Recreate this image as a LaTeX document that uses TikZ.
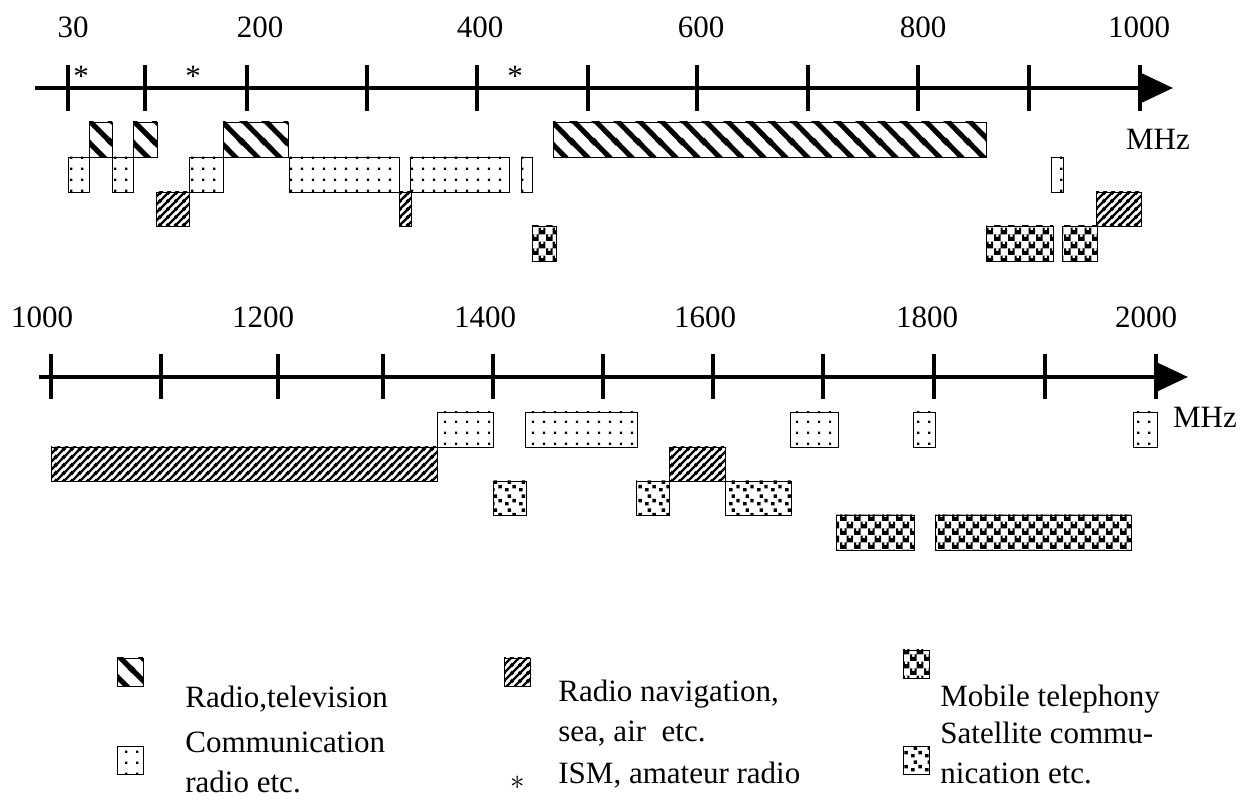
\documentclass[tikz,border=0pt]{standalone}
\usepackage{fontspec}
\setmainfont{Liberation Serif}
\usetikzlibrary{patterns,arrows.meta}

% fill patterns of the bands
\pgfdeclarepatternformonly{rtvlines}{\pgfqpoint{0pt}{0pt}}{\pgfqpoint{11pt}{11pt}}{\pgfqpoint{11pt}{11pt}}{%
  \pgfsetlinewidth{2.6pt}
  \pgfpathmoveto{\pgfqpoint{-11pt}{22pt}}\pgfpathlineto{\pgfqpoint{22pt}{-11pt}}
  \pgfpathmoveto{\pgfqpoint{-11pt}{11pt}}\pgfpathlineto{\pgfqpoint{11pt}{-11pt}}
  \pgfpathmoveto{\pgfqpoint{0pt}{22pt}}\pgfpathlineto{\pgfqpoint{22pt}{0pt}}
  \pgfusepath{stroke}}
\pgfdeclarepatternformonly{navlines}{\pgfqpoint{0pt}{0pt}}{\pgfqpoint{4pt}{4pt}}{\pgfqpoint{4pt}{4pt}}{%
  \pgfsetlinewidth{1.3pt}
  \pgfpathmoveto{\pgfqpoint{-4pt}{-4pt}}\pgfpathlineto{\pgfqpoint{8pt}{8pt}}
  \pgfpathmoveto{\pgfqpoint{0pt}{-4pt}}\pgfpathlineto{\pgfqpoint{8pt}{4pt}}
  \pgfpathmoveto{\pgfqpoint{-4pt}{0pt}}\pgfpathlineto{\pgfqpoint{4pt}{8pt}}
  \pgfusepath{stroke}}
\pgfdeclarepatternformonly{commdots}{\pgfqpoint{0pt}{0pt}}{\pgfqpoint{5.5pt}{5.5pt}}{\pgfqpoint{5.5pt}{5.5pt}}{%
  \pgfpathrectangle{\pgfqpoint{2.15pt}{2.15pt}}{\pgfqpoint{1.2pt}{1.2pt}}
  \pgfusepath{fill}}
\pgfdeclarepatternformonly{mobcells}{\pgfqpoint{0pt}{0pt}}{\pgfqpoint{7pt}{7pt}}{\pgfqpoint{7pt}{7pt}}{%
  \pgfseteorule
  \pgfpathrectangle{\pgfqpoint{0pt}{0pt}}{\pgfqpoint{3.5pt}{3.5pt}}
  \pgfpathrectangle{\pgfqpoint{1.1pt}{2.2pt}}{\pgfqpoint{1.3pt}{1.3pt}}
  \pgfpathrectangle{\pgfqpoint{3.5pt}{3.5pt}}{\pgfqpoint{3.5pt}{3.5pt}}
  \pgfpathrectangle{\pgfqpoint{4.6pt}{5.7pt}}{\pgfqpoint{1.3pt}{1.3pt}}
  \pgfusepath{fill}}
\pgfdeclarepatternformonly{satspots}{\pgfqpoint{0pt}{0pt}}{\pgfqpoint{7pt}{7pt}}{\pgfqpoint{7pt}{7pt}}{%
  \pgfpathrectangle{\pgfqpoint{0.6pt}{0.8pt}}{\pgfqpoint{1.8pt}{1.8pt}}
  \pgfpathrectangle{\pgfqpoint{4.4pt}{2.4pt}}{\pgfqpoint{1.8pt}{1.8pt}}
  \pgfpathrectangle{\pgfqpoint{1.9pt}{4.8pt}}{\pgfqpoint{1.8pt}{1.8pt}}
  \pgfusepath{fill}}

\begin{document}
\begin{tikzpicture}[x=0.5pt, y=-0.5pt, font=\fontsize{15.5}{20}\selectfont,
  every node/.style={inner sep=0pt},
  axisline/.style={line width=2pt, -{Triangle[length=16.5pt,width=15pt]}},
  axtick/.style={line width=2pt},
  band/.style={draw, line width=0.4pt},
  rtv/.style={band, pattern=rtvlines},
  comm/.style={band, pattern=commdots},
  nav/.style={band, pattern=navlines},
  mob/.style={band, pattern=mobcells},
  sat/.style={band, pattern=satspots}]
  \useasboundingbox (0,0) rectangle (1249,801);

  % 30 - 1000 MHz
  \coordinate (ua) at (35,88);
  \coordinate (ub) at (1173,88);
  \draw[axisline] (ua) -- (ub);
  \foreach \x in {68,145,247,367,477,588,697,808,918,1029,1140}
    \draw[axtick] (\x,65) -- (\x,111);
  \foreach \x/\t in {73/30,260/200,480/400,701/600,923/800,1139/1000}
    \node[anchor=base] (u\t) at (\x,38) {\t};
  \foreach \x in {81,193,515}
    \node[anchor=base] (ism\x) at (\x,87) {*};
  \node[anchor=base] (umhz) at (1158,150) {MHz};

  \foreach \a/\b in {89/112,133/157,223/288,553/986}
    \draw[rtv] (\a,122) rectangle (\b,157);
  \foreach \a/\b in {68/89,112/133,189/223,289/399,410/509,521/532,1051/1063}
    \draw[comm] (\a,157) rectangle (\b,192);
  \foreach \a/\b in {156/189,399/411,1096/1141}
    \draw[nav] (\a,192) rectangle (\b,226);
  \foreach \a/\b in {532/556,986/1053,1062/1097}
    \draw[mob] (\a,226) rectangle (\b,261);

  % 1000 - 2000 MHz
  \coordinate (la) at (39,377);
  \coordinate (lb) at (1188,377);
  \draw[axisline] (la) -- (lb);
  \foreach \x in {51,161,278,383,493,603,713,823,934,1045,1156}
    \draw[axtick] (\x,354) -- (\x,399);
  \foreach \x/\t in {42/1000,263/1200,485/1400,705/1600,927/1800,1146/2000}
    \node[anchor=base] (l\t) at (\x,328) {\t};
  \node[anchor=base] (lmhz) at (1205,428) {MHz};

  \foreach \a/\b in {437/493,525/637,790/838,913/935,1133/1157}
    \draw[comm] (\a,412) rectangle (\b,447);
  \foreach \a/\b in {51/437,669/725}
    \draw[nav] (\a,447) rectangle (\b,481);
  \foreach \a/\b in {493/526,636/669,725/791}
    \draw[sat] (\a,481) rectangle (\b,515);
  \foreach \a/\b in {836/914,935/1131}
    \draw[mob] (\a,515) rectangle (\b,550);

  % legend
  \draw[rtv] (117,658) rectangle (143,686);
  \node[anchor=west] (ktv) at (185,699) {Radio,television};
  \draw[comm] (117,746) rectangle (143,774);
  \node[anchor=west, align=left] (kcomm) at (185,762) {Communication\\radio etc.};
  \draw[nav] (504,658) rectangle (530,686);
  \node[anchor=west, align=left] (knav) at (558,713) {Radio navigation,\\sea, air~ etc.};
  \node[anchor=base] (kast) at (518,790) {$\ast$};
  \node[anchor=west] (kism) at (558,775) {ISM, amateur radio};
  \draw[mob] (903,650) rectangle (929,678);
  \node[anchor=west] (kmob) at (940,699) {Mobile telephony};
  \draw[sat] (903,746) rectangle (929,774);
  \node[anchor=west, align=left] (ksat) at (940,753) {Satellite commu-\\nication etc.};
\end{tikzpicture}
\end{document}
